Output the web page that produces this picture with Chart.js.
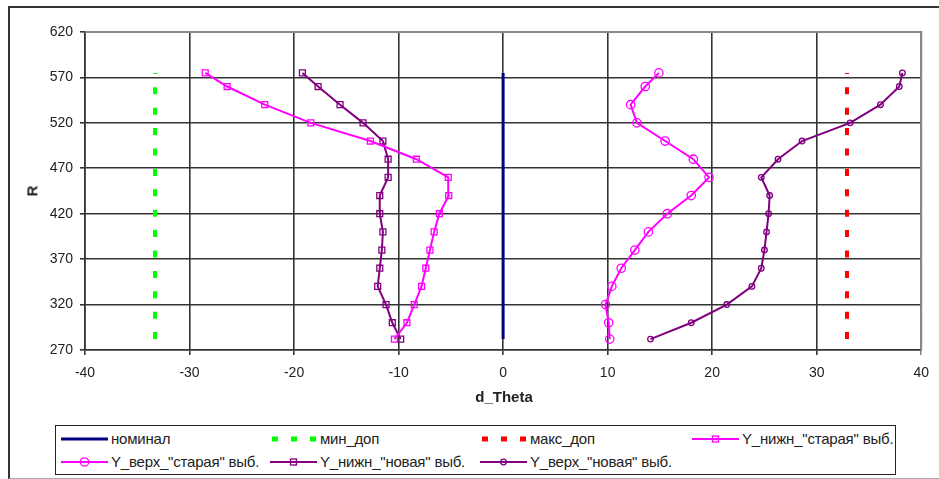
<!DOCTYPE html>
<html>
<head>
<meta charset="utf-8">
<script src="https://cdn.jsdelivr.net/npm/chart.js@4.4.1/dist/chart.umd.min.js"></script>
<style>
  html, body { margin: 0; padding: 0; background: #fff; }
  #wrap { position: relative; width: 939px; height: 479px; overflow: hidden;
          font-family: "Liberation Sans", Arial, sans-serif; color: #222; }
  #frame { position: absolute; left: 8px; top: 6px; width: 960px; height: 470px;
           border-left: 2px solid #333; border-top: 2px solid #333; border-bottom: 1px solid #aaa; }
  #chart { position: absolute; left: 0; top: 0; }
  .axis-title { position: absolute; font-size: 15px; font-weight: bold; color: #222; line-height: 18px; }
  #xtitle { left: 444px; width: 120px; text-align: center; top: 388px; }
  #ytitle { left: 27px; top: 182px; transform: rotate(-90deg); }
  #legend { position: absolute; left: 55px; top: 425px; width: 839px; height: 48px;
            border: 1.5px solid #222; background: #fff; }
  .leg { position: absolute; height: 18px; font-size: 15px; line-height: 18px; white-space: nowrap; }
  .leg svg { position: absolute; left: 0; top: 2px; }
  .leg span { position: absolute; left: 50px; top: 0; letter-spacing: -0.2px; }
</style>
</head>
<body>
<div id="wrap">
  <div id="frame"></div>
  <canvas id="chart" width="939" height="479"></canvas>
  <div class="axis-title" id="xtitle">d_Theta</div>
  <div class="axis-title" id="ytitle">R</div>
  <div id="legend"></div>
</div>
<script>
'use strict';

/* ---- Data ---- */
const R_VALUES = [282, 300, 320, 340, 360, 380, 400, 420, 440, 460, 480, 500, 520, 540, 560, 575];

const NOMINAL   = [0, 0];
const MIN_DOP   = [-33.3, -33.3];
const MAX_DOP   = [32.9, 32.9];
const LIMIT_R   = [282, 575];

const NIZH_OLD  = [-10.4, -9.2, -8.5, -7.8, -7.4, -7.0, -6.6, -6.1, -5.2, -5.25, -8.3, -12.7, -18.4, -22.8, -26.4, -28.5];
const VERH_OLD  = [10.2, 10.1, 9.8, 10.4, 11.3, 12.6, 13.9, 15.7, 18.0, 19.7, 18.2, 15.5, 12.8, 12.2, 13.6, 14.9];
const NIZH_NEW  = [-9.8, -10.6, -11.2, -12.0, -11.8, -11.6, -11.5, -11.8, -11.8, -11.0, -11.0, -11.5, -13.4, -15.6, -17.7, -19.2];
const VERH_NEW  = [14.1, 18.0, 21.4, 23.8, 24.7, 25.0, 25.2, 25.4, 25.5, 24.7, 26.3, 28.6, 33.2, 36.1, 37.9, 38.2];

const X_TICKS = [-40, -30, -20, -10, 0, 10, 20, 30, 40];
const Y_TICKS = [270, 320, 370, 420, 470, 520, 570, 620];

const MAGENTA = '#ff00ff';
const PURPLE  = '#800080';

/* ---- Helpers ---- */
function pairs(xs, ys) {
  return xs.map((x, i) => ({ x, y: ys[i] }));
}

/* ---- Datasets ---- */
const datasets = [
  { label: 'номинал', data: pairs(NOMINAL, LIMIT_R), borderColor: '#000080', borderWidth: 3, pointRadius: 0 },
  { label: 'мин_доп', data: pairs(MIN_DOP, LIMIT_R), borderColor: '#00ff00', borderWidth: 4,
    borderDash: [7, 13.4], borderCapStyle: 'butt', pointRadius: 0 },
  { label: 'макс_доп', data: pairs(MAX_DOP, LIMIT_R), borderColor: '#ff0000', borderWidth: 4,
    borderDash: [7, 13.4], borderCapStyle: 'butt', pointRadius: 0 },
  { label: 'Y_нижн_"старая" выб.', data: pairs(NIZH_OLD, R_VALUES), borderColor: MAGENTA, borderWidth: 2,
    pointStyle: 'rect', pointRadius: 4.2, pointBorderWidth: 1.3, pointBackgroundColor: 'rgba(0,0,0,0)', pointBorderColor: MAGENTA },
  { label: 'Y_верх_"старая" выб.', data: pairs(VERH_OLD, R_VALUES), borderColor: MAGENTA, borderWidth: 2,
    pointStyle: 'circle', pointRadius: 4.2, pointBorderWidth: 1.3, pointBackgroundColor: 'rgba(0,0,0,0)', pointBorderColor: MAGENTA },
  { label: 'Y_нижн_"новая" выб.', data: pairs(NIZH_NEW, R_VALUES), borderColor: PURPLE, borderWidth: 2,
    pointStyle: 'rect', pointRadius: 4.2, pointBorderWidth: 1.3, pointBackgroundColor: 'rgba(0,0,0,0)', pointBorderColor: PURPLE },
  { label: 'Y_верх_"новая" выб.', data: pairs(VERH_NEW, R_VALUES), borderColor: PURPLE, borderWidth: 2,
    pointStyle: 'circle', pointRadius: 2.8, pointBorderWidth: 1.3, pointBackgroundColor: 'rgba(0,0,0,0)', pointBorderColor: PURPLE },
];
datasets.forEach(d => { d.showLine = true; d.fill = false; d.tension = 0; });

/* ---- Plot frame (top/right grey edge) ---- */
const framePlugin = {
  id: 'plotFrame',
  beforeDatasetsDraw(chart) {
    const { ctx, chartArea: a } = chart;
    ctx.save();
    ctx.strokeStyle = '#888';
    ctx.lineWidth = 2;
    ctx.beginPath();
    ctx.moveTo(a.left, a.top);
    ctx.lineTo(a.right, a.top);
    ctx.lineTo(a.right, a.bottom);
    ctx.stroke();
    ctx.restore();
  },
};

const tickFont = { family: '"Liberation Sans", Arial, sans-serif', size: 14 };

new Chart(document.getElementById('chart'), {
  type: 'scatter',
  data: { datasets },
  plugins: [framePlugin],
  options: {
    responsive: false,
    animation: false,
    layout: { padding: { top: 32, right: 17, left: 0, bottom: 0 } },
    plugins: { legend: { display: false }, tooltip: { enabled: false } },
    scales: {
      x: {
        type: 'linear', min: X_TICKS[0], max: X_TICKS[X_TICKS.length - 1],
        afterBuildTicks: s => { s.ticks = X_TICKS.map(v => ({ value: v })); },
        ticks: { font: tickFont, color: '#222', padding: 10, maxRotation: 0 },
        grid: { color: c => (c.index === X_TICKS.length - 1 ? '#888' : '#333'), lineWidth: 1.6, tickLength: 5 },
        border: { color: '#333', width: 1.6 },
        afterFit: s => { s.height = 129; },
      },
      y: {
        type: 'linear', min: Y_TICKS[0], max: Y_TICKS[Y_TICKS.length - 1],
        afterBuildTicks: s => { s.ticks = Y_TICKS.map(v => ({ value: v })); },
        ticks: { font: tickFont, color: '#222', padding: 7 },
        grid: { color: '#333', lineWidth: 1.6, tickLength: 5 },
        border: { color: '#333', width: 1.6 },
        afterFit: s => { s.width = 85; },
      },
    },
  },
});

/* ---- HTML legend (Excel-like 4-column grid) ---- */
const LEGEND_COLS = [5, 214, 424, 636];
const LEGEND_ROWS = [4, 27];

function legendSymbol(ds) {
  const w = 47, h = 14, cy = 7;
  let s = `<svg width="${w}" height="${h}">`;
  if (ds.borderDash) {
    for (const x of [2, 21, 40]) s += `<rect x="${x}" y="${cy - 2.5}" width="6" height="5" fill="${ds.borderColor}"/>`;
  } else {
    s += `<line x1="0" y1="${cy}" x2="${w}" y2="${cy}" stroke="${ds.borderColor}" stroke-width="${ds.borderWidth}"/>`;
    if (ds.pointStyle === 'rect') {
      s += `<rect x="${w / 2 - 3}" y="${cy - 3}" width="6" height="6" fill="none" stroke="${ds.borderColor}" stroke-width="1.3"/>`;
    } else if (ds.pointStyle === 'circle') {
      s += `<circle cx="${w / 2}" cy="${cy}" r="${ds.pointRadius}" fill="none" stroke="${ds.borderColor}" stroke-width="1.3"/>`;
    }
  }
  return s + '</svg>';
}

const legendEl = document.getElementById('legend');
legendEl.innerHTML = datasets.map((ds, i) => {
  const col = LEGEND_COLS[i % 4];
  const row = LEGEND_ROWS[Math.floor(i / 4)];
  const span = document.createElement('span');
  span.textContent = ds.label;
  return `<div class="leg" style="left:${col}px;top:${row}px">${legendSymbol(ds)}${span.outerHTML}</div>`;
}).join('');
</script>
</body>
</html>
